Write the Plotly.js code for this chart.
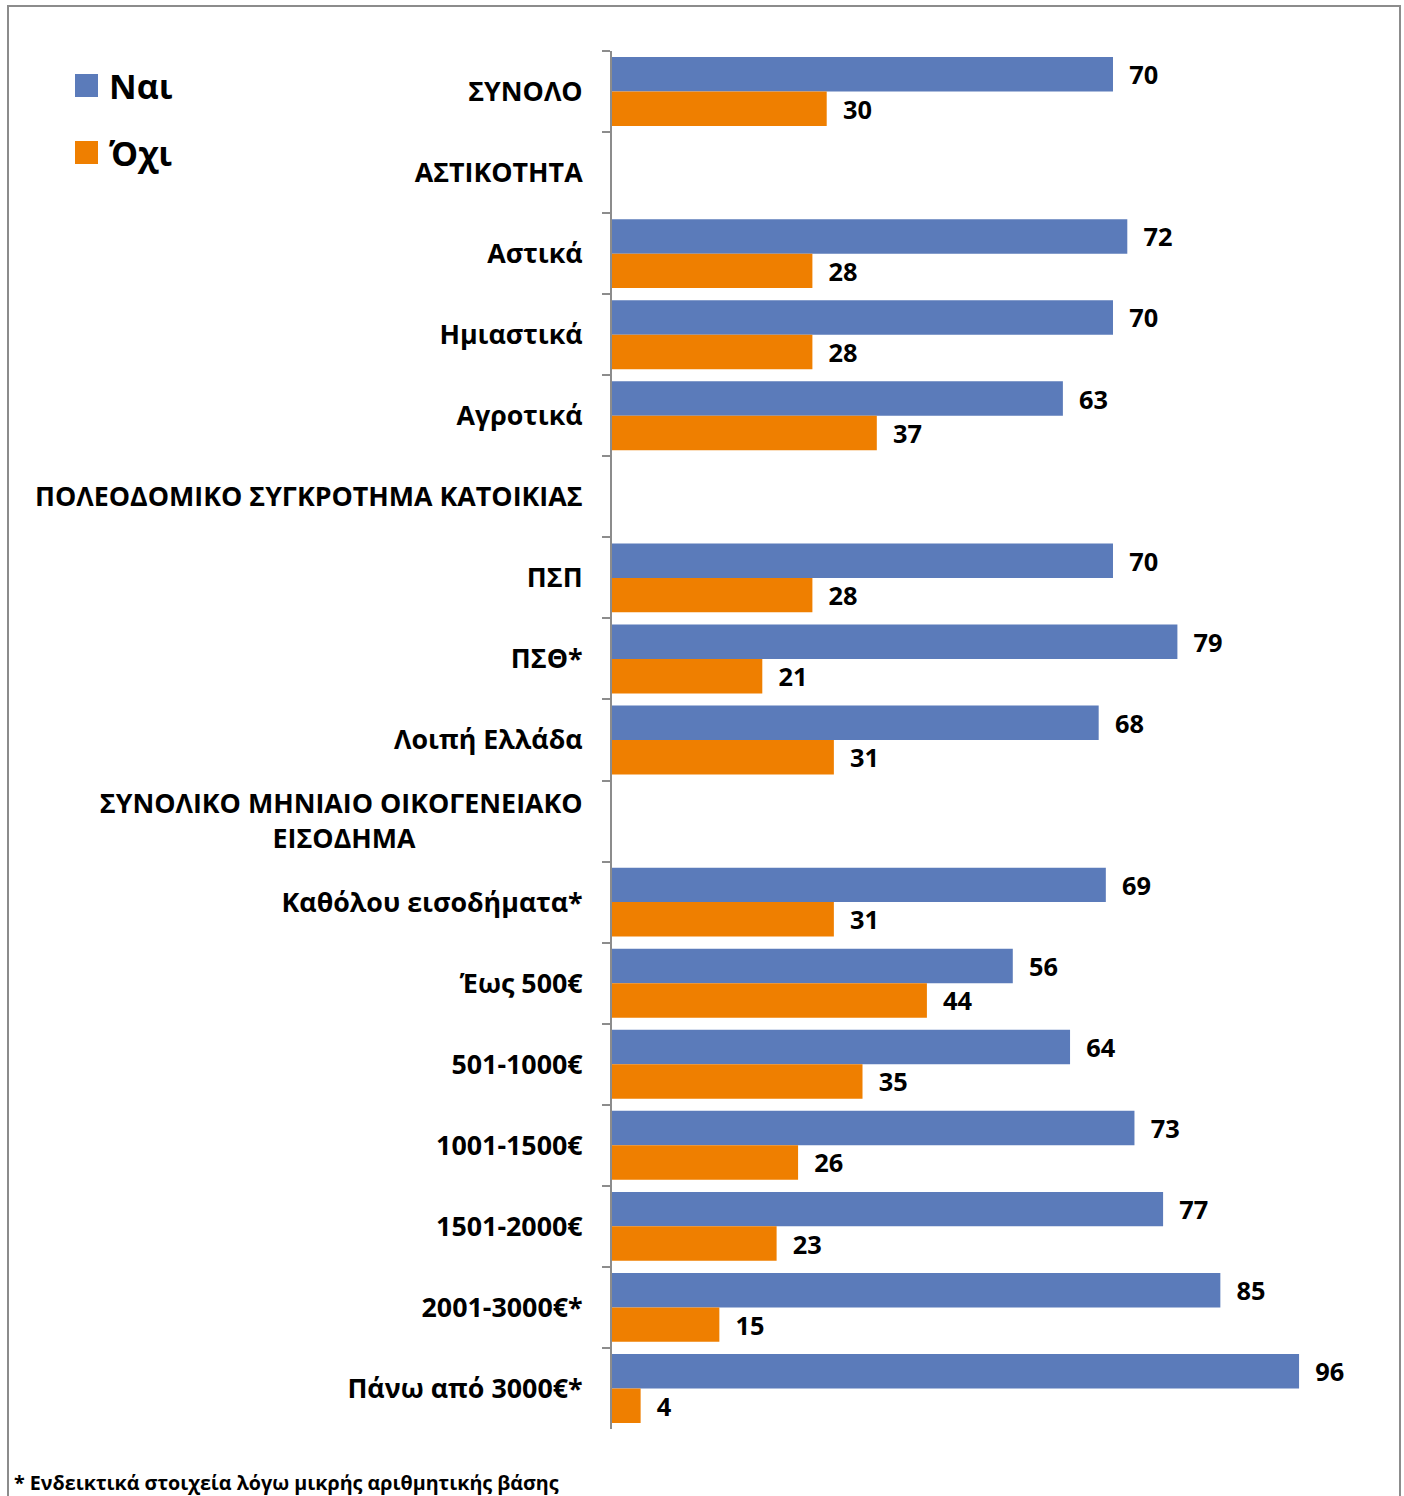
<!DOCTYPE html>
<html>
<head>
<meta charset="utf-8">
<script src="https://cdn.plot.ly/plotly-3.0.1.min.js"></script>
<style>
  html, body { margin: 0; padding: 0; background: #ffffff; }
  #chart { position: absolute; left: 0; top: 0; width: 1404px; height: 1496px; }
  #frame { position: absolute; left: 7px; top: 5px; width: 1390px; height: 1520px;
           border: 2px solid #8c8c8c; pointer-events: none; }
</style>
</head>
<body>
<div id="chart"></div>
<div id="frame"></div>
<script>
const NB = '\u00a0';
const categories = [
  'ΣΥΝΟΛΟ',
  'ΑΣΤΙΚΟΤΗΤΑ',
  'Αστικά',
  'Ημιαστικά',
  'Αγροτικά',
  'ΠΟΛΕΟΔΟΜΙΚΟ ΣΥΓΚΡΟΤΗΜΑ ΚΑΤΟΙΚΙΑΣ',
  'ΠΣΠ',
  'ΠΣΘ*',
  'Λοιπή Ελλάδα',
  'ΣΥΝΟΛΙΚΟ ΜΗΝΙΑΙΟ ΟΙΚΟΓΕΝΕΙΑΚΟ<br>ΕΙΣΟΔΗΜΑ' + NB.repeat(24),
  'Καθόλου εισοδήματα*',
  'Έως 500€',
  '501-1000€',
  '1001-1500€',
  '1501-2000€',
  '2001-3000€*',
  'Πάνω από 3000€*'
];
const seriesNames = ['Ναι', 'Όχι'];
const yesValues = [70, null, 72, 70, 63, null, 70, 79, 68, null, 69, 56, 64, 73, 77, 85, 96];
const noValues  = [30, null, 28, 28, 37, null, 28, 21, 31, null, 31, 44, 35, 26, 23, 15, 4];
const colors = ['#5b7bba', '#ef7f00'];
const footnote = '* Ενδεικτικά στοιχεία λόγω μικρής αριθμητικής βάσης';

const FONT = '"Open Sans", "Noto Sans", sans-serif';

function barTrace(name, values, color) {
  return {
    type: 'bar',
    orientation: 'h',
    name: name,
    x: values,
    y: categories,
    marker: { color: color, line: { width: 0 } },
    text: values.map(v => v == null ? '' : NB.repeat(2) + v),
    textposition: 'outside',
    textfont: { family: FONT, size: 28, color: '#000000', weight: 700 },
    cliponaxis: false,
    hoverinfo: 'x+y'
  };
}

const data = [
  barTrace(seriesNames[0], yesValues, colors[0]),
  barTrace(seriesNames[1], noValues, colors[1])
];

const plotWidth = 1398 - 612;
const pxPerUnit = 7.157;

const layout = {
  width: 1404,
  height: 1496,
  margin: { l: 612, r: 1404 - 1398, t: 51, b: 1496 - 51 - 1378 },
  paper_bgcolor: '#ffffff',
  plot_bgcolor: '#ffffff',
  barmode: 'group',
  bargap: 0.15,
  bargroupgap: 0,
  showlegend: false,
  font: { family: FONT, color: '#000000' },
  xaxis: {
    range: [0, plotWidth / pxPerUnit],
    visible: false,
    showgrid: false,
    zeroline: false
  },
  yaxis: {
    type: 'category',
    categoryorder: 'array',
    categoryarray: categories,
    autorange: 'reversed',
    showline: true,
    linecolor: '#8c8c8c',
    linewidth: 2,
    ticks: 'outside',
    tickson: 'boundaries',
    ticklen: 8,
    tickwidth: 2,
    tickcolor: '#8c8c8c',
    ticklabelstandoff: 22,
    tickfont: { family: FONT, size: 26.8, color: '#000000', weight: 700 },
    showgrid: false,
    zeroline: false
  },
  shapes: [
    { type: 'rect', xref: 'paper', yref: 'paper',
      x0: (75 - 612) / plotWidth, x1: (98 - 612) / plotWidth,
      y0: (1496 - 67 - 97) / 1378, y1: (1496 - 67 - 74) / 1378,
      fillcolor: colors[0], line: { width: 0 } },
    { type: 'rect', xref: 'paper', yref: 'paper',
      x0: (75 - 612) / plotWidth, x1: (98 - 612) / plotWidth,
      y0: (1496 - 67 - 164) / 1378, y1: (1496 - 67 - 141) / 1378,
      fillcolor: colors[1], line: { width: 0 } }
  ],
  annotations: [
    { xref: 'paper', yref: 'paper', x: (107 - 612) / plotWidth, y: (1496 - 67 - 86) / 1378,
      xanchor: 'left', yanchor: 'middle', showarrow: false, text: seriesNames[0],
      font: { family: FONT, size: 34, color: '#000000', weight: 700 } },
    { xref: 'paper', yref: 'paper', x: (107 - 612) / plotWidth, y: (1496 - 67 - 153) / 1378,
      xanchor: 'left', yanchor: 'middle', showarrow: false, text: seriesNames[1],
      font: { family: FONT, size: 34, color: '#000000', weight: 700 } },
    { xref: 'paper', yref: 'paper', x: (12 - 612) / plotWidth, y: (1496 - 67 - 1482) / 1378,
      xanchor: 'left', yanchor: 'middle', showarrow: false, text: footnote,
      font: { family: FONT, size: 19.7, color: '#000000', weight: 700 } }
  ]
};

Plotly.newPlot('chart', data, layout, { staticPlot: true, displayModeBar: false });
</script>
</body>
</html>
